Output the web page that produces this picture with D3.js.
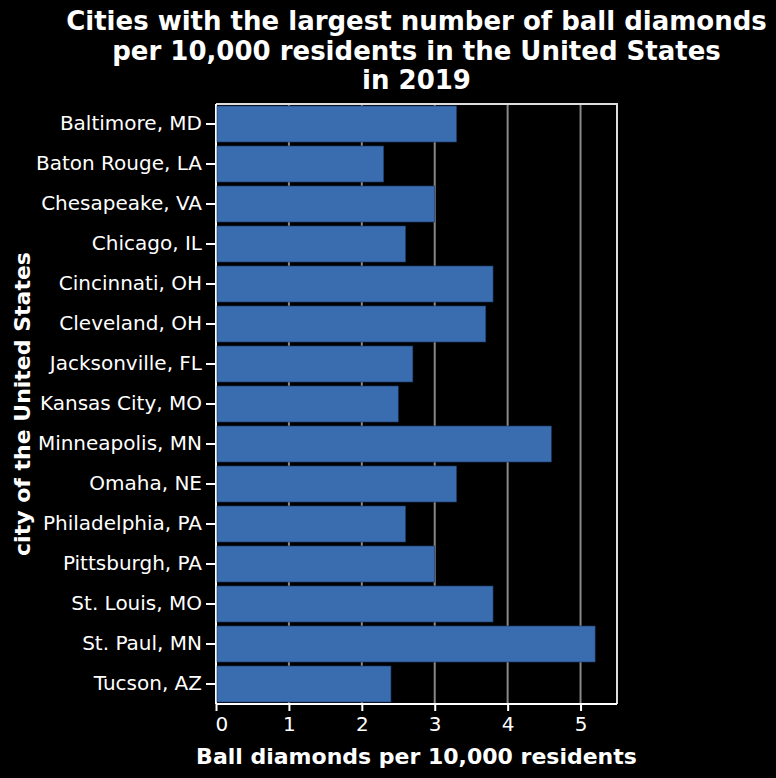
<!DOCTYPE html>
<html>
<head>
  <meta charset='utf-8'>
  <style>
    body { margin: 0; background: #000; }
    text { font-family: 'DejaVu Sans', sans-serif; fill: #fff; }
  </style>
  <script src='https://cdn.jsdelivr.net/npm/d3@7'></script>
</head>
<body>
  <script>
    let cities = ['Baltimore, MD', 'Baton Rouge, LA', 'Chesapeake, VA', 'Chicago, IL',
      'Cincinnati, OH', 'Cleveland, OH', 'Jacksonville, FL', 'Kansas City, MO',
      'Minneapolis, MN', 'Omaha, NE', 'Philadelphia, PA', 'Pittsburgh, PA',
      'St. Louis, MO', 'St. Paul, MN', 'Tucson, AZ']
    let diamonds = [3.3, 2.3, 3.0, 2.6, 3.8, 3.7, 2.7, 2.5, 4.6, 3.3, 2.6, 3.0, 3.8, 5.2, 2.4]
    let xTicks = [0, 1, 2, 3, 4, 5]
    let titleLines = ['Cities with the largest number of ball diamonds',
      'per 10,000 residents in the United States', 'in 2019']

    let [width, height] = [776, 778]
    let [mLeft, mTop, mRight, mBottom] = [216, 104, 617, 704]

    let svg = d3.select('body').append('svg')
      .attr('width', width).attr('height', height)
      .style('background', '#000')

    let x = d3.scaleLinear([0, 5.5], [mLeft, mRight])
    let y = d3.scaleBand(cities, [mTop, mBottom]).paddingInner(0.1).paddingOuter(0.05)

    // grid
    svg.append('g')
      .selectAll('line').data(xTicks.slice(1))
      .join('line')
      .attr('x1', d => x(d)).attr('x2', d => x(d))
      .attr('y1', mTop).attr('y2', mBottom)
      .attr('stroke', '#888').attr('stroke-width', 2)

    // frame top/right
    svg.append('path')
      .attr('d', `M${mLeft},${mTop}H${mRight}V${mBottom}`)
      .attr('fill', 'none').attr('stroke', '#ddd').attr('stroke-width', 2)

    let yAxis = svg.append('g')
      .attr('transform', `translate(${mLeft},0)`)
      .call(d3.axisLeft(y).tickSize(10).tickPadding(4))
    yAxis.selectAll('text').style('font-size', '20px')

    svg.append('g')
      .selectAll('rect').data(cities)
      .join('rect')
      .attr('x', mLeft + 1)
      .attr('y', d => y(d))
      .attr('width', (d, i) => x(diamonds[i]) - mLeft - 1)
      .attr('height', y.bandwidth())
      .attr('fill', '#3a6db0')
      .attr('stroke', '#1d3a63').attr('stroke-width', 0.6)

    let xAxis = svg.append('g')
      .attr('transform', `translate(0,${mBottom})`)
      .call(d3.axisBottom(x).tickValues(xTicks).tickFormat(d3.format('d')).tickSize(7).tickPadding(6))
    xAxis.selectAll('text').style('font-size', '20px')
    // first label flush with the axis start
    xAxis.selectAll('.tick text').filter(d => d === 0).attr('text-anchor', 'start').attr('x', -1)

    svg.selectAll('.domain, .tick line').attr('stroke', '#fff').attr('stroke-width', 2)
    xAxis.select('.domain').attr('d', `M${mLeft},0H${mRight}`)
    yAxis.select('.domain').attr('d', `M0,${mTop}V${mBottom}`)

    // titles
    svg.append('text')
      .attr('text-anchor', 'middle')
      .style('font-size', '26px').style('font-weight', 'bold')
      .selectAll('tspan').data(titleLines)
      .join('tspan')
      .attr('x', (mLeft + mRight) / 2)
      .attr('y', (d, i) => 30 + i * 29.5)
      .text(d => d)

    svg.append('text')
      .attr('x', (mLeft + mRight) / 2).attr('y', 764)
      .attr('text-anchor', 'middle')
      .style('font-size', '22px').style('font-weight', 'bold')
      .text('Ball diamonds per 10,000 residents')

    svg.append('text')
      .attr('transform', `translate(30,${(mTop + mBottom) / 2}) rotate(-90)`)
      .attr('text-anchor', 'middle')
      .style('font-size', '22px').style('font-weight', 'bold')
      .text('city of the United States')
  </script>
</body>
</html>
